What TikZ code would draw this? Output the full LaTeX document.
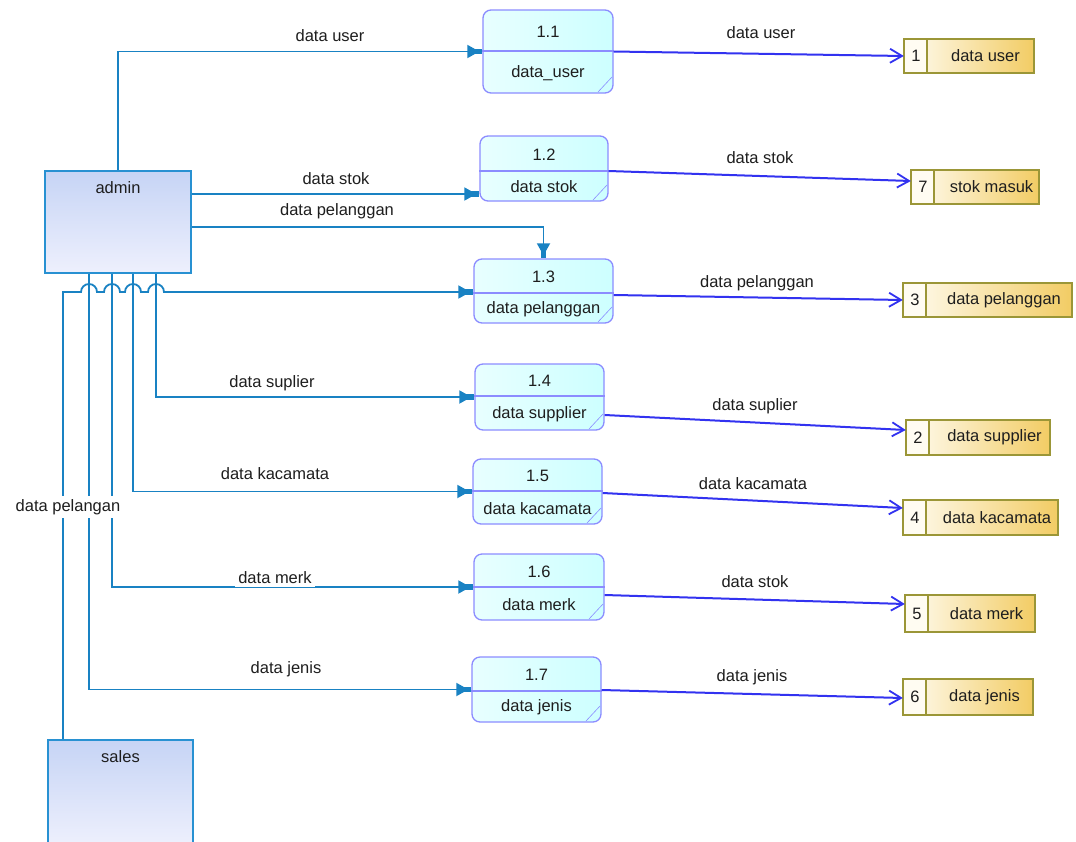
\documentclass[tikz,border=0pt]{standalone}
\usepackage{fontspec}
\setmainfont{Liberation Sans}
\usetikzlibrary{arrows.meta}
\definecolor{flowc}{RGB}{25,130,195}
\definecolor{storec}{RGB}{50,50,240}
\definecolor{procb}{RGB}{140,140,255}
\definecolor{procf}{RGB}{205,255,255}
\definecolor{procf2}{RGB}{232,255,255}
\definecolor{entb}{RGB}{40,145,210}
\definecolor{entf1}{RGB}{198,212,245}
\definecolor{entf2}{RGB}{238,240,253}
\definecolor{dsb}{RGB}{155,150,55}
\definecolor{dsf}{RGB}{242,204,100}
\definecolor{dsf0}{RGB}{255,252,242}
\definecolor{txt}{RGB}{30,30,30}
\tikzset{
  entity/.style={draw=entb, line width=1.8pt, top color=entf1, bottom color=entf2, inner sep=0pt},
  proc/.style={draw=procb, line width=1.3pt, rounded corners=8pt, left color=procf2, right color=procf, inner sep=0pt},
  procline/.style={draw=procb, line width=1.3pt},
  ds/.style={left color=dsf0, right color=dsf, inner sep=0pt},
  dsline/.style={draw=dsb, line width=1.5pt},
  flow/.style={draw=flowc, line width=1.8pt, -{Triangle[length=12pt,width=13pt,sep=-5pt] Rectangle[length=8pt,width=5.5pt]}},
  sflow/.style={draw=storec, line width=2pt, -{Straight Barb[length=12pt,width=14pt,line width=1.8pt]}},
  lbl/.style={text=txt, inner sep=3.3pt},
  wlbl/.style={text=txt, fill=white, inner sep=3.3pt}
}
\newcommand\procbox[8]{%
  \node[proc, minimum width={(#4-(#2))*1pt}, minimum height={(#5-(#3))*1pt}] (#1) at ({(#2+#4)/2},{(#3+#5)/2}) {};
  \draw[procline] (#1.west |- 0,#6) -- (#1.east |- 0,#6);
  \draw[procline, line width=0.6pt] ({#4-15},{#5-1}) -- ({#4-1},{#5-16});
  \node[lbl] (#1n) at ({(#2+#4)/2},{(#3+#6)/2+1}) {#7};
  \node[lbl] (#1l) at ({(#2+#4)/2},{(#6+#5)/2+1}) {#8};
}
\newcommand\dstore[7]{%
  \node[ds, minimum width={(#4-(#2))*1pt}, minimum height={(#5-(#3))*1pt}] (#1) at ({(#2+#4)/2},{(#3+#5)/2}) {};
  \fill[dsf0] (#2,#3) rectangle ({#2+23},#5);
  \draw[dsline] (#1.north west) rectangle (#1.south east);
  \draw[dsline] ({#2+23},#3) -- ({#2+23},#5);
  \node[lbl] (#1n) at ({#2+12},{(#3+#5)/2}) {#6};
  \node[lbl] (#1l) at ({(#2+23+#4)/2+5},{(#3+#5)/2}) {#7};
}
\begin{document}
\begin{tikzpicture}[x=1pt,y=-1pt,font=\fontsize{16.5}{19}\selectfont]
\useasboundingbox[fill=white] (0,0) rectangle (1076,841);
% entities
\node[entity, minimum width=146pt, minimum height=102pt] (admin) at (118,222) {};
\node[lbl] (adminT) at (118,188) {admin};
\node[entity, minimum width=145pt, minimum height=106pt] (sales) at (120.5,793) {};
\node[lbl] (salesT) at (120.5,757) {sales};
% processes
\procbox{p1}{483}{10}{613}{93}{51}{1.1}{data\_user}
\procbox{p2}{480}{136}{608}{201}{171}{1.2}{data stok}
\procbox{p3}{474}{259}{613}{323}{293}{1.3}{data pelanggan}
\procbox{p4}{475}{364}{604}{430}{396}{1.4}{data supplier}
\procbox{p5}{473}{459}{602}{524}{491}{1.5}{data kacamata}
\procbox{p6}{474}{554}{604}{620}{587}{1.6}{data merk}
\procbox{p7}{472}{657}{601}{722}{691}{1.7}{data jenis}
% data stores
\dstore{s1}{904}{39}{1034}{73}{1}{data user}
\dstore{s7}{911}{170}{1039}{204}{7}{stok masuk}
\dstore{s3}{903}{283}{1072}{317}{3}{data pelanggan}
\dstore{s2}{906}{420}{1050}{455}{2}{data supplier}
\dstore{s4}{903}{500}{1058}{535}{4}{data kacamata}
\dstore{s5}{905}{595}{1035}{632}{5}{data merk}
\dstore{s6}{903}{679}{1033}{715}{6}{data jenis}
% flows from admin
\draw[flow] (admin.north) |- (p1.west);
\draw[flow] (admin.east |- 0,194) -- (p2.west |- 0,194);
\draw[flow] (admin.east |- 0,227) -| (p3.north);
\draw[flow] (admin.south -| 156,0) |- (p4.west);
\draw[flow] (admin.south -| 133,0) |- (p5.west);
\draw[flow] (admin.south -| 112,0) |- (p6.west);
\draw[flow] (admin.south -| 89,0) |- (p7.west);
% flow from sales with line jumps
\draw[flow] (sales.north -| 63,0) -- (63,292) -- (81,292)
  arc[start angle=180,end angle=360,radius=8] -- (104,292)
  arc[start angle=180,end angle=360,radius=8] -- (125,292)
  arc[start angle=180,end angle=360,radius=8] -- (148,292)
  arc[start angle=180,end angle=360,radius=8] -- (p3.west |- 0,292);
% flows to data stores
\draw[sflow] (p1.east) -- (s1.west);
\draw[sflow] (p2.east |- 0,171) -- (s7.west |- 0,181);
\draw[sflow] (p3.east |- 0,295) -- (s3.west);
\draw[sflow] (p4.east |- 0,415) -- (s2.west |- 0,430);
\draw[sflow] (p5.east |- 0,493) -- (s4.west |- 0,508);
\draw[sflow] (p6.east |- 0,595) -- (s5.west |- 0,604);
\draw[sflow] (p7.east |- 0,690) -- (s6.west |- 0,698);
% labels left
\node[lbl] (l1) at (330,36) {data user};
\node[lbl] (l2) at (336,179) {data stok};
\node[lbl] (l3) at (337,211) {data pelanggan};
\node[lbl] (l4) at (272,383) {data suplier};
\node[lbl] (l5) at (275,474) {data kacamata};
\node[wlbl] (l6) at (275,578) {data merk};
\node[lbl] (l7) at (286,669) {data jenis};
\node[wlbl] (l8) at (68,507) {data pelangan};
% labels right
\node[lbl] (r1) at (761,33) {data user};
\node[lbl] (r2) at (760,158) {data stok};
\node[lbl] (r3) at (757,283) {data pelanggan};
\node[lbl] (r4) at (755,406) {data suplier};
\node[lbl] (r5) at (753,484) {data kacamata};
\node[lbl] (r6) at (755,582) {data stok};
\node[lbl] (r7) at (752,677) {data jenis};
\end{tikzpicture}
\end{document}
